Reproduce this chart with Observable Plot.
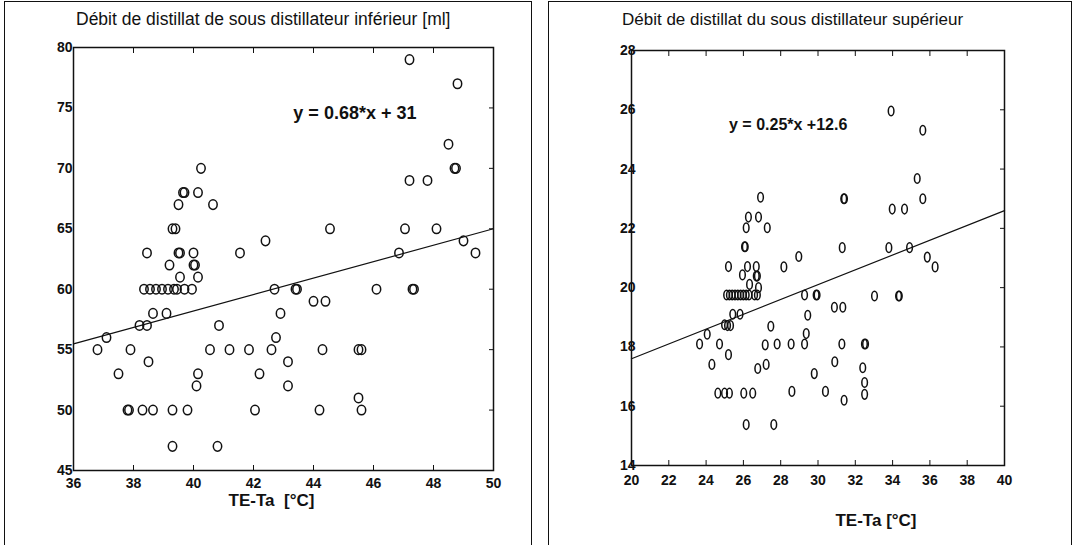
<!DOCTYPE html>
<html><head><meta charset="utf-8">
<script src="https://cdn.jsdelivr.net/npm/d3@7"></script>
<script src="https://cdn.jsdelivr.net/npm/@observablehq/plot@0.6"></script>
<style>
body{margin:0;background:#fff;width:1076px;height:545px;position:relative;overflow:hidden;font-family:"Liberation Sans",Arial,sans-serif;color:#111;}
.panel{position:absolute;border:1.5px solid #111;box-sizing:border-box;}
.title{position:absolute;font-size:17px;white-space:nowrap;}
.plot{position:absolute;top:0;}
</style></head><body>
<div class="panel" style="left:4px;top:1px;width:528px;height:550px"></div>
<div class="panel" style="left:548px;top:1px;width:524px;height:550px"></div>
<div class="title" style="left:76px;top:9px;font-size:17.5px">Débit de distillat de sous distillateur inférieur [ml]</div>
<div class="title" style="left:622px;top:10px">Débit de distillat du sous distillateur supérieur</div>
<div id="left" class="plot" style="left:0"></div>
<div id="right" class="plot" style="left:540px"></div>
<script>
// ---- Left chart: lower distiller ----
const leftX = [36.8,37.1,37.5,37.9,37.8,37.85,38.2,38.45,38.3,38.65,38.45,38.5,38.35,38.55,38.65,38.75,38.95,39.1,39.15,39.2,39.3,39.4,39.35,39.45,39.5,39.55,39.5,39.55,39.7,39.95,40.0,40.0,40.05,40.15,39.3,39.8,39.65,39.7,40.15,40.25,40.65,40.15,40.1,40.55,40.85,41.2,41.55,41.85,42.05,42.2,42.4,42.6,42.7,42.75,42.9,43.4,43.45,43.15,43.15,44.0,44.4,44.3,44.2,44.55,45.5,45.6,45.5,45.6,46.1,46.85,47.05,47.2,47.2,47.3,47.35,47.8,48.1,48.5,48.7,48.75,48.8,49.0,49.4,39.3,40.8];
const leftY = [55,56,53,55,50,50,57,57,50,50,63,54,60,60,58,60,60,58,60,62,65,65,60,60,67,63,63,61,60,60,63,62,62,61,50,50,68,68,68,70,67,53,52,55,57,55,63,55,50,53,64,55,60,56,58,60,60,54,52,59,59,55,50,65,55,55,51,50,60,63,65,79,69,60,60,69,65,72,70,70,77,64,63,47,47];
const leftXTicks = [36,38,40,42,44,46,48,50];
const leftYTicks = [45,50,55,60,65,70,75,80];
const leftFit = {slope: 0.68, intercept: 31, label: "y = 0.68*x + 31"};
const leftXLabel = "TE-Ta  [°C]";

// ---- Right chart: upper distiller ----
const rightX = [26.92,26.27,26.81,26.15,27.28,26.06,26.1,25.2,26.22,26.69,25.95,26.69,26.75,26.33,26.81,
  25.1,25.25,25.4,25.55,25.7,25.85,26.0,26.15,26.3,26.6,26.75,
  25.43,25.82,24.99,25.15,25.31,24.06,23.65,24.72,25.2,24.31,26.77,27.22,27.47,27.17,
  24.63,24.99,25.25,26.02,26.5,26.15,27.63,
  33.92,35.62,35.32,35.62,31.38,31.42,33.98,34.64,31.3,33.8,34.91,35.86,36.28,28.97,28.17,
  29.28,29.9,29.95,33.03,34.32,34.36,29.45,30.88,31.33,27.81,28.56,29.28,29.37,31.28,32.49,32.55,
  29.8,30.4,30.9,31.4,32.4,32.5,32.5,28.6];
const rightY = [23.05,22.38,22.38,22.02,22.02,21.38,21.38,20.71,20.71,20.71,20.43,20.39,20.39,20.11,20.0,
  19.75,19.75,19.75,19.75,19.75,19.75,19.75,19.75,19.75,19.75,19.75,
  19.1,19.1,18.75,18.72,18.72,18.43,18.1,18.1,17.74,17.41,17.27,17.41,18.7,18.07,
  16.44,16.44,16.44,16.44,16.44,15.38,15.38,
  25.96,25.31,23.68,23.0,23.0,23.0,22.65,22.65,21.35,21.35,21.35,21.03,20.7,21.05,20.7,
  19.75,19.75,19.75,19.72,19.72,19.72,19.07,19.34,19.34,18.1,18.1,18.1,18.45,18.1,18.1,18.1,
  17.1,16.5,17.5,16.2,17.3,16.8,16.4,16.5];
const rightXTicks = [20,22,24,26,28,30,32,34,36,38,40];
const rightYTicks = [14,16,18,20,22,24,26,28];
const rightFit = {slope: 0.25, intercept: 12.6, label: "y = 0.25*x +12.6"};
const rightXLabel = "TE-Ta [°C]";

const font = '"Liberation Sans", Arial, sans-serif';
function ellipse(rx, ry) {
  const k = 0.5523;
  return {draw(ctx) {
    ctx.moveTo(rx, 0);
    ctx.bezierCurveTo(rx, ry*k, rx*k, ry, 0, ry);
    ctx.bezierCurveTo(-rx*k, ry, -rx, ry*k, -rx, 0);
    ctx.bezierCurveTo(-rx, -ry*k, -rx*k, -ry, 0, -ry);
    ctx.bezierCurveTo(rx*k, -ry, rx, -ry*k, rx, 0);
    ctx.closePath();
  }};
}

function chart(cfg) {
  const pts = cfg.xs.map((x, i) => ({x, y: cfg.ys[i]}));
  const d = [cfg.xTicks[0], cfg.xTicks[cfg.xTicks.length-1]];
  const fit = d.map(x => ({x, y: cfg.fit.slope * x + cfg.fit.intercept}));
  const svg = Plot.plot({
    width: cfg.width, height: 545,
    marginLeft: cfg.ml, marginRight: cfg.mr, marginTop: cfg.mt, marginBottom: cfg.mb,
    style: {fontFamily: font, color: "#111", background: "transparent"},
    x: {domain: d, ticks: cfg.xTicks},
    y: {domain: [cfg.yTicks[0], cfg.yTicks[cfg.yTicks.length-1]], ticks: cfg.yTicks},
    marks: [
      Plot.frame({stroke: "#111", strokeWidth: 1.5}),
      Plot.axisX(cfg.xTicks, {anchor: "bottom", tickSize: 0, tickPadding: cfg.xPad, label: null}),
      Plot.axisX(cfg.xTicks, {anchor: "bottom", tickSize: -5, tickFormat: () => "", label: null}),
      Plot.axisX(cfg.xTicks, {anchor: "top", tickSize: -5, tickFormat: () => "", label: null}),
      Plot.axisY(cfg.yTicks, {anchor: "left", tickSize: 0, tickPadding: cfg.yPad, label: null}),
      Plot.axisY(cfg.yTicks, {anchor: "right", tickSize: -5, tickFormat: () => "", label: null}),
      Plot.line(fit, {x: "x", y: "y", stroke: "#111", strokeWidth: 1.2}),
      Plot.dot(pts, {x: "x", y: "y", symbol: ellipse(cfg.rx, cfg.ry), stroke: "#111", strokeWidth: 1.5, fill: "none"}),
      Plot.text([cfg.fit.label], {x: cfg.eqX, y: cfg.eqY, text: d => d, fontWeight: "bold", fontSize: cfg.eqSize, fill: "#111"}),
      Plot.text([cfg.xLabel], {frameAnchor: "bottom", dx: cfg.lblDx, dy: cfg.lblDy, text: d => d, fontWeight: "bold", fontSize: 17, fill: "#111"})
    ]
  });
  // make numeric tick labels bold and larger, like the scanned figure
  svg.querySelectorAll("text").forEach(t => {
    if (/^\d+$/.test(t.textContent.trim())) {
      t.style.fontSize = "14px";
      t.style.fontWeight = "bold";
      t.style.fill = "#111";
    }
  });
  return svg;
}

document.getElementById("left").append(chart({
  xs: leftX, ys: leftY, xTicks: leftXTicks, yTicks: leftYTicks, fit: leftFit, xLabel: leftXLabel,
  width: 540, ml: 73, mr: 47, mt: 47, mb: 75, yPad: 1, xPad: 8, rx: 4.2, ry: 4.8,
  eqX: 45.38, eqY: 74.6, eqSize: 18, lblDx: -12, lblDy: 35
}));
document.getElementById("right").append(chart({
  xs: rightX, ys: rightY, xTicks: rightXTicks, yTicks: rightYTicks, fit: rightFit, xLabel: rightXLabel,
  width: 536, ml: 91, mr: 72, mt: 50, mb: 80, yPad: -4, xPad: 10, rx: 2.8, ry: 4.8,
  eqX: 28.4, eqY: 25.5, eqSize: 16, lblDx: 58, lblDy: 60
}));
</script>
</body></html>
